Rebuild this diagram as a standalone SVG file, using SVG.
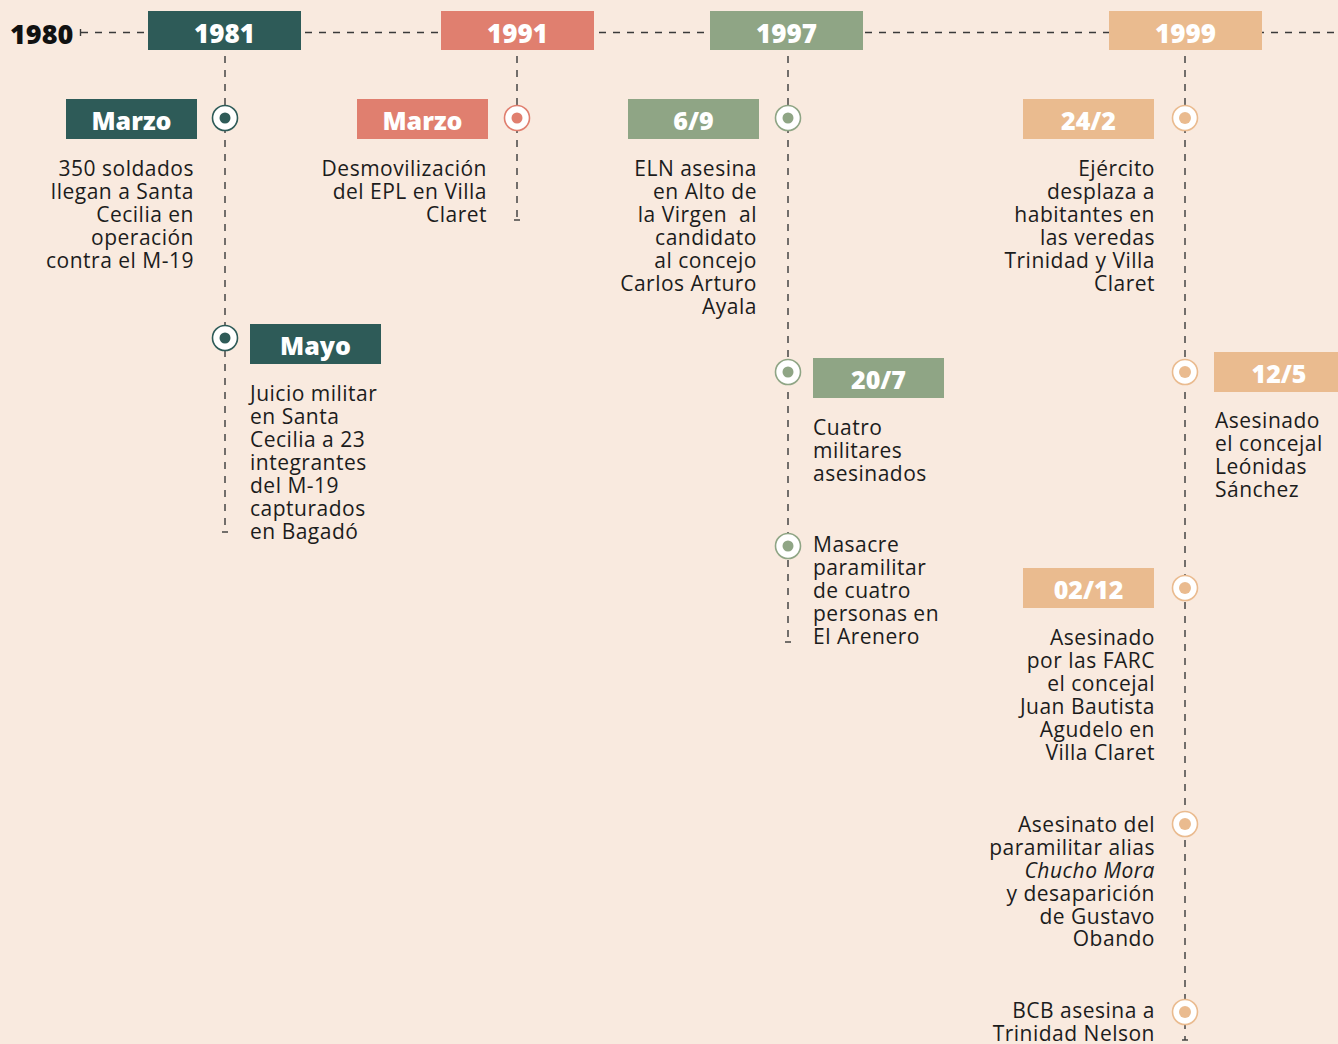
<svg xmlns="http://www.w3.org/2000/svg" width="1338" height="1044" viewBox="0 0 1338 1044">
  <style>
    .dash { stroke: #3a3a3a; stroke-width: 1.4; stroke-dasharray: 7 7; fill: none; }
    .tick { stroke: #3a3a3a; stroke-width: 1.4; fill: none; }
    .year { font-family: "Open Sans", "Noto Sans", sans-serif; font-weight: 800; font-size: 26px; fill: #ffffff; text-anchor: middle; }
    .lbl { font-family: "Open Sans", "Noto Sans", sans-serif; font-weight: 800; font-size: 25px; fill: #ffffff; text-anchor: middle; }
    .body { font-family: "Open Sans", "Noto Sans", sans-serif; font-size: 21px; letter-spacing: 0.5px; fill: #1c1c1c; }
    .r { text-anchor: end; }
    .l { text-anchor: start; }
    .teal { fill: #2e5b58; }
    .salmon { fill: #e07f6f; }
    .sage { fill: #8fa585; }
    .tan { fill: #eabb8f; }
  </style>
  <defs>
    <g id="dot-teal"><circle r="12.5" fill="#ffffff" stroke="#2e5b58" stroke-width="1.6"/><circle r="5.5" fill="#2e5b58"/></g>
    <g id="dot-salmon"><circle r="12.5" fill="#ffffff" stroke="#e07f6f" stroke-width="1.6"/><circle r="5.5" fill="#e07f6f"/></g>
    <g id="dot-sage"><circle r="12.5" fill="#ffffff" stroke="#8fa585" stroke-width="1.6"/><circle r="5.5" fill="#8fa585"/></g>
    <g id="dot-tan"><circle r="12.5" fill="#ffffff" stroke="#eabb8f" stroke-width="1.6"/><circle r="6" fill="#eabb8f"/></g>
  </defs>

  <rect width="1338" height="1044" fill="#f9eadf"/>

  <!-- connectors: main axis and branch lines -->
  <g id="connectors">
    <line class="tick" x1="80.5" y1="29" x2="80.5" y2="36"/>
    <line class="dash" x1="81" y1="32.5" x2="1338" y2="32.5"/>
    <line class="dash" x1="225" y1="56" x2="225" y2="532"/>
    <line class="tick" x1="222" y1="532" x2="228" y2="532"/>
    <line class="dash" x1="517" y1="56" x2="517" y2="220"/>
    <line class="tick" x1="514" y1="220" x2="520" y2="220"/>
    <line class="dash" x1="788" y1="56" x2="788" y2="642"/>
    <line class="tick" x1="785" y1="642" x2="791" y2="642"/>
    <line class="dash" x1="1185" y1="56" x2="1185" y2="1040"/>
    <line class="tick" x1="1182" y1="1040" x2="1188" y2="1040"/>
  </g>

  <text x="10" y="44" font-family="Open Sans, Noto Sans, sans-serif" font-weight="800" font-size="27" fill="#111111">1980</text>

  <!-- 1981 -->
  <g id="y1981">
    <rect class="teal" x="148" y="11" width="153" height="39"/>
    <text class="year" x="224.5" y="42.5">1981</text>
  </g>
  <g id="e1981-marzo">
    <rect class="teal" x="66" y="99" width="131" height="40"/>
    <text class="lbl" x="131.5" y="130">Marzo</text>
    <use href="#dot-teal" x="225" y="118"/>
    <text class="body r" x="194" y="176">350 soldados</text>
    <text class="body r" x="194" y="199">llegan a Santa</text>
    <text class="body r" x="194" y="222">Cecilia en</text>
    <text class="body r" x="194" y="245">operación</text>
    <text class="body r" x="194" y="268">contra el M-19</text>
  </g>
  <g id="e1981-mayo">
    <rect class="teal" x="250" y="324" width="131" height="40"/>
    <text class="lbl" x="315.5" y="355">Mayo</text>
    <use href="#dot-teal" x="225" y="338"/>
    <text class="body l" x="250" y="401">Juicio militar</text>
    <text class="body l" x="250" y="424">en Santa</text>
    <text class="body l" x="250" y="447">Cecilia a 23</text>
    <text class="body l" x="250" y="470">integrantes</text>
    <text class="body l" x="250" y="493">del M-19</text>
    <text class="body l" x="250" y="516">capturados</text>
    <text class="body l" x="250" y="539">en Bagadó</text>
  </g>

  <!-- 1991 -->
  <g id="y1991">
    <rect class="salmon" x="441" y="11" width="153" height="39"/>
    <text class="year" x="517.5" y="42.5">1991</text>
  </g>
  <g id="e1991-marzo">
    <rect class="salmon" x="357" y="99" width="131" height="40"/>
    <text class="lbl" x="422.5" y="130">Marzo</text>
    <use href="#dot-salmon" x="517" y="118"/>
    <text class="body r" x="487" y="176">Desmovilización</text>
    <text class="body r" x="487" y="199">del EPL en Villa</text>
    <text class="body r" x="487" y="222">Claret</text>
  </g>

  <!-- 1997 -->
  <g id="y1997">
    <rect class="sage" x="710" y="11" width="153" height="39"/>
    <text class="year" x="786.5" y="42.5">1997</text>
  </g>
  <g id="e1997-69">
    <rect class="sage" x="628" y="99" width="131" height="40"/>
    <text class="lbl" x="693.5" y="130">6/9</text>
    <use href="#dot-sage" x="788" y="118"/>
    <text class="body r" x="757" y="176">ELN asesina</text>
    <text class="body r" x="757" y="199">en Alto de</text>
    <text class="body r" x="757" y="222" style="white-space:pre">la Virgen  al</text>
    <text class="body r" x="757" y="245">candidato</text>
    <text class="body r" x="757" y="268">al concejo</text>
    <text class="body r" x="757" y="291">Carlos Arturo</text>
    <text class="body r" x="757" y="314">Ayala</text>
  </g>
  <g id="e1997-207">
    <rect class="sage" x="813" y="358" width="131" height="40"/>
    <text class="lbl" x="878.5" y="389">20/7</text>
    <use href="#dot-sage" x="788" y="372"/>
    <text class="body l" x="813" y="435">Cuatro</text>
    <text class="body l" x="813" y="458">militares</text>
    <text class="body l" x="813" y="481">asesinados</text>
  </g>
  <g id="e1997-masacre">
    <use href="#dot-sage" x="788" y="546"/>
    <text class="body l" x="813" y="552">Masacre</text>
    <text class="body l" x="813" y="575">paramilitar</text>
    <text class="body l" x="813" y="598">de cuatro</text>
    <text class="body l" x="813" y="621">personas en</text>
    <text class="body l" x="813" y="644">El Arenero</text>
  </g>

  <!-- 1999 -->
  <g id="y1999">
    <rect class="tan" x="1109" y="11" width="153" height="39"/>
    <text class="year" x="1185.5" y="42.5">1999</text>
  </g>
  <g id="e1999-242">
    <rect class="tan" x="1023" y="99" width="131" height="40"/>
    <text class="lbl" x="1088.5" y="130">24/2</text>
    <use href="#dot-tan" x="1185" y="118"/>
    <text class="body r" x="1155" y="176">Ejército</text>
    <text class="body r" x="1155" y="199">desplaza a</text>
    <text class="body r" x="1155" y="222">habitantes en</text>
    <text class="body r" x="1155" y="245">las veredas</text>
    <text class="body r" x="1155" y="268">Trinidad y Villa</text>
    <text class="body r" x="1155" y="291">Claret</text>
  </g>
  <g id="e1999-125">
    <rect class="tan" x="1214" y="352" width="124" height="40"/>
    <text class="lbl" x="1279" y="383">12/5</text>
    <use href="#dot-tan" x="1185" y="372"/>
    <text class="body l" x="1215" y="428">Asesinado</text>
    <text class="body l" x="1215" y="451">el concejal</text>
    <text class="body l" x="1215" y="474">Leónidas</text>
    <text class="body l" x="1215" y="497">Sánchez</text>
  </g>
  <g id="e1999-0212">
    <rect class="tan" x="1023" y="568" width="131" height="40"/>
    <text class="lbl" x="1088.5" y="599">02/12</text>
    <use href="#dot-tan" x="1185" y="588"/>
    <text class="body r" x="1155" y="645">Asesinado</text>
    <text class="body r" x="1155" y="668">por las FARC</text>
    <text class="body r" x="1155" y="691">el concejal</text>
    <text class="body r" x="1155" y="714">Juan Bautista</text>
    <text class="body r" x="1155" y="737">Agudelo en</text>
    <text class="body r" x="1155" y="760">Villa Claret</text>
  </g>
  <g id="e1999-chucho">
    <use href="#dot-tan" x="1185" y="824"/>
    <text class="body r" x="1155" y="832">Asesinato del</text>
    <text class="body r" x="1155" y="855">paramilitar alias</text>
    <text class="body r" x="1155" y="878" font-style="italic">Chucho Mora</text>
    <text class="body r" x="1155" y="901">y desaparición</text>
    <text class="body r" x="1155" y="924">de Gustavo</text>
    <text class="body r" x="1155" y="946">Obando</text>
  </g>
  <g id="e1999-bcb">
    <use href="#dot-tan" x="1185" y="1012"/>
    <text class="body r" x="1155" y="1018">BCB asesina a</text>
    <text class="body r" x="1155" y="1041">Trinidad Nelson</text>
  </g>
</svg>
